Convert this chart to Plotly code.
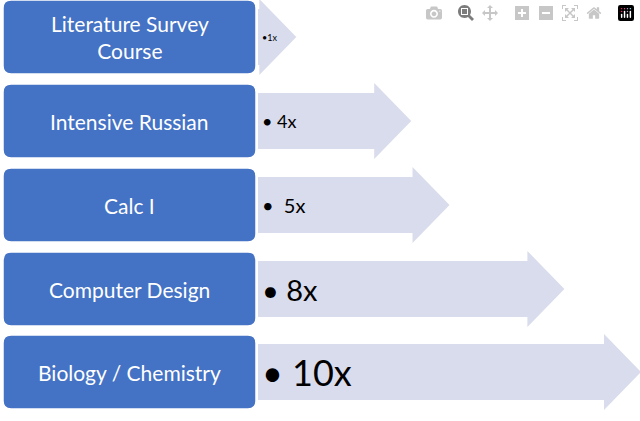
import plotly.graph_objects as go

categories = ["Literature Survey<br>Course", "Intensive Russian", "Calc I", "Computer Design", "Biology / Chemistry"]
multipliers = [1, 4, 5, 8, 10]
labels = ["•1x", "• 4x", "•  5x", "• 8x", "• 10x"]
label_sizes = [9, 18, 20, 29, 36]

BOX_L, BOX_R = 3, 256
ROW_TOP = [0, 84, 168, 252, 335]
ROW_H = 74
X0, UNIT, HEAD = 258, 38.3, 37

def rrect(x0, y0, x1, y1, r):
    return (f"M{x0+r},{y0} L{x1-r},{y0} Q{x1},{y0} {x1},{y0+r} L{x1},{y1-r} Q{x1},{y1} {x1-r},{y1} "
            f"L{x0+r},{y1} Q{x0},{y1} {x0},{y1-r} L{x0},{y0+r} Q{x0},{y0} {x0+r},{y0} Z")

fig = go.Figure()
shapes, anns = [], []
for i, (cat, m, lab, fs) in enumerate(zip(categories, multipliers, labels, label_sizes)):
    t = ROW_TOP[i]; b = t + ROW_H; mid = (t + b) / 2
    tip = X0 + UNIT * m
    neck = tip - HEAD
    path = (f"M{X0},{t+9} L{neck},{t+9} L{neck},{t-1} L{tip},{mid} L{neck},{b+1} "
            f"L{neck},{b-9} L{X0},{b-9} Z")
    shapes.append(dict(type="path", path=path, fillcolor="#D9DCEC", line=dict(width=0), layer="below"))
    shapes.append(dict(type="path", path=rrect(BOX_L, t, BOX_R, b, 8), fillcolor="#4472C4",
                       line=dict(color="white", width=1.5)))
    anns.append(dict(x=(BOX_L + BOX_R) / 2, y=mid, text=cat, showarrow=False,
                     font=dict(family="Lato", size=21, color="white"), xref="x", yref="y"))
    anns.append(dict(x=X0 + 2, y=mid, text=lab, showarrow=False, xanchor="left",
                     font=dict(family="Lato", size=fs, color="black"), xref="x", yref="y"))

fig.update_layout(shapes=shapes, annotations=anns, width=640, height=421,
                  margin=dict(l=0, r=0, t=0, b=0), paper_bgcolor="white", plot_bgcolor="white",
                  xaxis=dict(range=[0, 640], visible=False),
                  yaxis=dict(range=[421, 0], visible=False), showlegend=False)
fig.write_html("out.html", post_script="document.body.style.margin='0';document.body.style.overflow='hidden';")
